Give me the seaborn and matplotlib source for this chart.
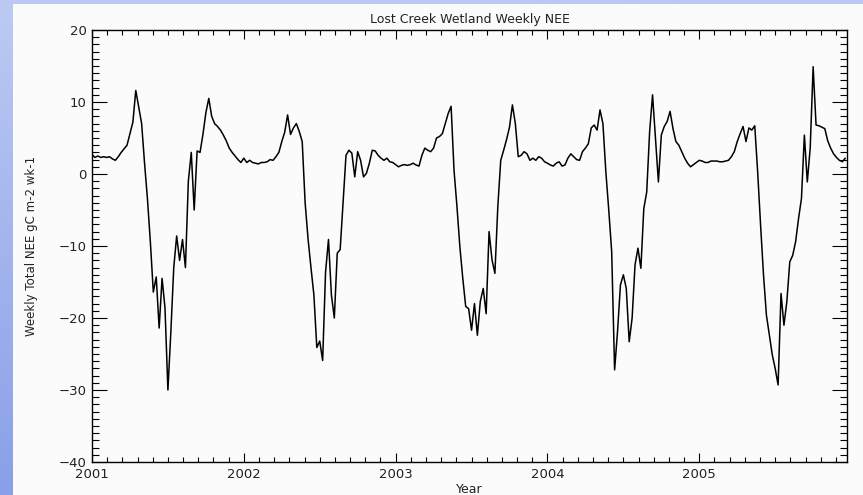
import numpy as np
import pandas as pd
import matplotlib
matplotlib.use("Agg")
import matplotlib.pyplot as plt
import seaborn as sns
from matplotlib.ticker import MultipleLocator, FuncFormatter
from matplotlib.patches import Rectangle
from matplotlib.colors import LinearSegmentedColormap

# ---------------- data (weekly total NEE, gC m-2 wk-1) ----------------
start_year = 2001
weeks_per_year = 52

nee_2001 = [2.7, 2.3, 2.5, 2.3, 2.4, 2.3, 2.4, 2.1, 1.9, 2.4,
            3.0, 3.5, 4.0, 5.6, 7.2, 11.6, 9.3, 7.0, 1.5, -3.5,
            -9.5, -16.4, -14.3, -21.4, -14.5, -18.6, -30.0, -22.0, -13.0, -8.6,
            -12.0, -9.1, -13.0, -1.0, 3.0, -5.0, 3.2, 3.0, 5.5, 8.5,
            10.5, 8.0, 7.0, 6.6, 6.1, 5.4, 4.6, 3.6, 3.0, 2.5,
            2.0, 1.6]
nee_2002 = [2.2, 1.6, 1.9, 1.6, 1.5, 1.4, 1.6, 1.6, 1.7, 2.0,
            1.9, 2.4, 3.0, 4.5, 5.8, 8.2, 5.5, 6.4, 7.0, 5.9,
            4.5, -4.0, -9.0, -13.0, -16.8, -24.1, -23.2, -25.9, -13.6, -9.1,
            -16.8, -20.0, -11.0, -10.5, -4.0, 2.6, 3.3, 2.9, -0.4, 3.1,
            1.9, -0.4, 0.1, 1.5, 3.3, 3.2, 2.6, 2.2, 1.9, 2.2,
            1.7, 1.6]
nee_2003 = [1.3, 1.0, 1.2, 1.3, 1.2, 1.3, 1.5, 1.25, 1.1, 2.6,
            3.6, 3.3, 3.1, 3.6, 5.0, 5.2, 5.6, 7.0, 8.4, 9.4,
            0.5, -4.5, -10.1, -14.5, -18.4, -18.7, -21.7, -18.0, -22.4, -17.7,
            -15.9, -19.4, -8.0, -11.9, -13.8, -4.5, 1.9, 3.3, 4.8, 6.5,
            9.6, 7.0, 2.4, 2.6, 3.1, 2.8, 1.9, 2.2, 1.9, 2.4,
            2.2, 1.7]
nee_2004 = [1.5, 1.25, 1.1, 1.5, 1.7, 1.1, 1.25, 2.2, 2.8, 2.4,
            2.0, 1.9, 3.1, 3.6, 4.2, 6.4, 6.8, 6.1, 8.9, 7.0,
            0.3, -5.0, -10.8, -27.2, -21.9, -15.4, -14.0, -15.9, -23.3, -20.0,
            -12.6, -10.3, -13.1, -4.8, -2.5, 5.9, 11.0, 5.0, -1.1, 5.4,
            6.6, 7.3, 8.7, 6.3, 4.5, 4.0, 3.1, 2.2, 1.5, 1.0,
            1.3, 1.6]
nee_2005 = [1.9, 1.8, 1.6, 1.6, 1.8, 1.8, 1.8, 1.7, 1.7, 1.8,
            1.9, 2.4, 3.1, 4.5, 5.6, 6.6, 4.5, 6.4, 6.1, 6.7,
            0.3, -7.1, -14.0, -19.6, -22.4, -25.1, -27.0, -29.3, -16.6, -21.0,
            -17.7, -12.2, -11.3, -9.4, -6.2, -3.4, 5.4, -1.1, 3.6, 14.9,
            6.8, 6.7, 6.5, 6.3, 4.6, 3.6, 2.8, 2.3, 1.9, 1.7,
            2.2]

year_ticks = [2001, 2002, 2003, 2004, 2005]
title = "Lost Creek Wetland Weekly NEE"
xlabel = "Year"
ylabel = "Weekly Total NEE gC m-2 wk-1"

nee = nee_2001 + nee_2002 + nee_2003 + nee_2004 + nee_2005
week = np.arange(len(nee))
df = pd.DataFrame({"year": start_year + week / weeks_per_year, "nee": nee})

# ---------------- style ----------------
sns.set_style("ticks")
plt.rcParams["font.family"] = ["DejaVu Sans"]

W, H = 863, 495
fig = plt.figure(figsize=(W / 100, H / 100), dpi=100)

# blue gradient backdrop with off-white panel
bg = fig.add_axes([0, 0, 1, 1], zorder=-10)
grad = np.linspace(0, 1, 256).reshape(-1, 1)
cmap = LinearSegmentedColormap.from_list("bg", ["#bccaf3", "#8a9fe8"])
bg.imshow(grad, aspect="auto", cmap=cmap, extent=[0, 1, 0, 1], origin="upper")
bg.add_patch(Rectangle((13 / W, 0), 1, 1 - 4 / H, transform=bg.transAxes,
                       facecolor="#fbfbfb", edgecolor="none"))
bg.set_xlim(0, 1)
bg.set_ylim(0, 1)
bg.set_axis_off()

ax = fig.add_axes([92 / W, 33 / H, 755 / W, 432 / H])
ax.set_facecolor("#fbfbfb")
sns.lineplot(data=df, x="year", y="nee", ax=ax, color="black",
             linewidth=1.1, estimator=None, sort=False)

ax.set_xlim(start_year, start_year + 258.6 / weeks_per_year)
ax.set_ylim(-40, 20)
ax.set_xticks(year_ticks)
ax.xaxis.set_major_formatter(FuncFormatter(lambda v, p: f"{int(round(v))}"))
ax.xaxis.set_minor_locator(MultipleLocator(0.1))
ax.yaxis.set_major_locator(MultipleLocator(10))
ax.yaxis.set_minor_locator(MultipleLocator(1))

ax.tick_params(which="both", direction="in", top=True, right=True,
               colors="black", labelcolor="#222222", labelsize=9.5)
ax.tick_params(axis="y", which="major", length=10.8, width=0.8, pad=4)
ax.tick_params(axis="y", which="minor", length=5.0, width=0.8)
ax.tick_params(axis="x", which="major", length=6.5, width=0.8, pad=4)
ax.tick_params(axis="x", which="minor", length=3.6, width=0.8)
for s in ax.spines.values():
    s.set_color("black")
    s.set_linewidth(1.0)
    s.set_visible(True)

ax.set_title(title, fontsize=9, color="#222222", pad=5)
ax.set_xlabel(xlabel, fontsize=9, color="#222222", labelpad=2)
ax.set_ylabel(ylabel, fontsize=8.5, color="#222222")
ax.yaxis.set_label_coords(-0.0715, 0.5)

fig.savefig("out.png", dpi=100)
